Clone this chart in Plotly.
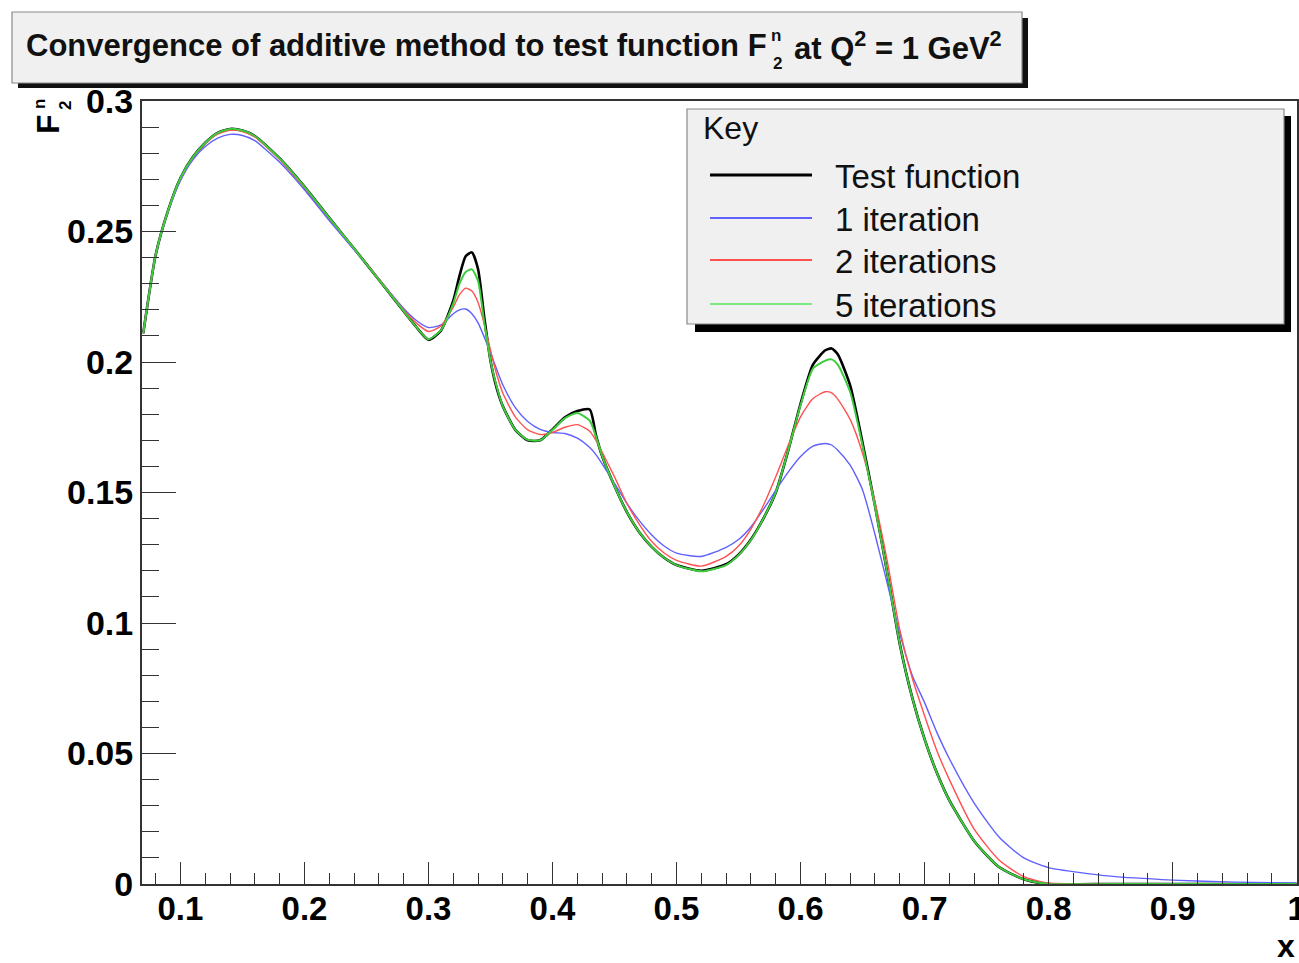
import plotly.graph_objects as go

# ---------------- data ----------------
x_vals = [0.07, 0.08, 0.09, 0.10, 0.11, 0.12, 0.13, 0.14, 0.15, 0.16,
          0.18, 0.20, 0.22, 0.24, 0.26, 0.28,
          0.29, 0.30, 0.31, 0.32,
          0.325, 0.33, 0.335, 0.34, 0.345, 0.35, 0.355, 0.36,
          0.37, 0.38, 0.39, 0.40, 0.41, 0.42, 0.43,
          0.435, 0.44, 0.45, 0.46, 0.47, 0.48, 0.49, 0.50,
          0.52, 0.54, 0.55, 0.56, 0.57, 0.58, 0.59, 0.60, 0.61, 0.62,
          0.625, 0.63, 0.64, 0.65, 0.66, 0.67, 0.68, 0.69, 0.70, 0.71, 0.72,
          0.74, 0.76, 0.78, 0.80, 0.85, 0.90, 0.95, 1.00]

test_function = [0.211, 0.241, 0.258, 0.2705, 0.2785, 0.2840, 0.2878, 0.2893, 0.2887, 0.2866,
                 0.2780, 0.2672, 0.2552, 0.2435, 0.2315, 0.2195,
                 0.2135, 0.2085, 0.2120, 0.2235,
                 0.2330, 0.2405, 0.2420, 0.2355, 0.2170, 0.2005, 0.1900, 0.1830,
                 0.1740, 0.1700, 0.1700, 0.1742, 0.1788, 0.1812, 0.1818,
                 0.1720, 0.1640, 0.1525, 0.1425, 0.1348, 0.1292, 0.1250, 0.1222,
                 0.1200, 0.1225, 0.1262, 0.1320, 0.1400, 0.1500, 0.1660, 0.1840, 0.1990, 0.2045,
                 0.2052, 0.2030, 0.1910, 0.1690, 0.1450, 0.1190, 0.0920, 0.0715, 0.0555, 0.0425, 0.0320,
                 0.0165, 0.0065, 0.0018, 0.0, 0.0, 0.0, 0.0, 0.0]

iter_1 = [0.211, 0.241, 0.2575, 0.2695, 0.2775, 0.2826, 0.2858, 0.2872, 0.2868, 0.2848,
          0.2765, 0.2660, 0.2542, 0.2430, 0.2318, 0.2205,
          0.2160, 0.2132, 0.2142, 0.2185,
          0.2200, 0.2203, 0.2185, 0.2150, 0.2095, 0.2035, 0.1972, 0.1912,
          0.1825, 0.1772, 0.1742, 0.1730, 0.1726, 0.1708, 0.1672,
          0.1645, 0.1610, 0.1535, 0.1458, 0.1392, 0.1337, 0.1295, 0.1268,
          0.1255, 0.1290, 0.1320, 0.1368, 0.1435, 0.1508, 0.1578, 0.1638, 0.1678, 0.1688,
          0.1682, 0.1662, 0.1605, 0.1510, 0.1340, 0.1150, 0.0960, 0.0800, 0.0695, 0.0580, 0.0480,
          0.0310, 0.0180, 0.0100, 0.0063, 0.0030, 0.0015, 0.0007, 0.0004]

iter_2 = [0.211, 0.241, 0.258, 0.2703, 0.2783, 0.2837, 0.2873, 0.2888, 0.2883, 0.2862,
          0.2776, 0.2668, 0.2550, 0.2435, 0.2318, 0.2200,
          0.2150, 0.2117, 0.2138, 0.2210,
          0.2258, 0.2283, 0.2272, 0.2228, 0.2145, 0.2045, 0.1952, 0.1880,
          0.1790, 0.1740, 0.1722, 0.1730, 0.1750, 0.1760, 0.1735,
          0.1700, 0.1655, 0.1560, 0.1458, 0.1378, 0.1312, 0.1268, 0.1240,
          0.1218, 0.1255, 0.1295, 0.1360, 0.1450, 0.1560, 0.1680, 0.1790, 0.1860, 0.1886,
          0.1882, 0.1858, 0.1780, 0.1650, 0.1465, 0.1235, 0.0975, 0.0790, 0.0645, 0.0510, 0.0400,
          0.0210, 0.0092, 0.0028, 0.0004, 0.0, 0.0, 0.0, 0.0]

iter_5 = [0.211, 0.241, 0.258, 0.2705, 0.2785, 0.2840, 0.2878, 0.2893, 0.2887, 0.2866,
          0.2780, 0.2672, 0.2552, 0.2435, 0.2315, 0.2195,
          0.2135, 0.2087, 0.2122, 0.2225,
          0.2300, 0.2345, 0.2355, 0.2310, 0.2150, 0.2005, 0.1905, 0.1830,
          0.1740, 0.1702, 0.1700, 0.1740, 0.1785, 0.1805, 0.1775,
          0.1715, 0.1640, 0.1525, 0.1425, 0.1348, 0.1292, 0.1250, 0.1222,
          0.1198, 0.1222, 0.1260, 0.1318, 0.1400, 0.1500, 0.1660, 0.1835, 0.1975, 0.2005,
          0.2010, 0.1990, 0.1885, 0.1680, 0.1445, 0.1190, 0.0920, 0.0715, 0.0555, 0.0425, 0.0320,
          0.0165, 0.0065, 0.0018, 0.0, 0.0, 0.0, 0.0, 0.0]

series_names = ["Test function", "1 iteration", "2 iterations", "5 iterations"]

x_tick_vals = [0.1, 0.2, 0.3, 0.4, 0.5, 0.6, 0.7, 0.8, 0.9, 1.0]
x_tick_text = ["0.1", "0.2", "0.3", "0.4", "0.5", "0.6", "0.7", "0.8", "0.9", "1"]
y_tick_vals = [0, 0.05, 0.1, 0.15, 0.2, 0.25, 0.3]
y_tick_text = ["0", "0.05", "0.1", "0.15", "0.2", "0.25", "0.3"]

# ---------------- layout geometry ----------------
W, H = 1299, 963
ML, MR, MT, MB = 142, 2, 101, 79
PW, PH = W - ML - MR, H - MT - MB


def px(xp):
    return (xp - ML) / PW


def py(yp):
    return (H - MB - yp) / PH


colors = ["#000000", "#6060ff", "#ff5050", "#3ccc3c"]
widths = [2.6, 1.4, 1.4, 2.0]
series = [test_function, iter_1, iter_2, iter_5]

fig = go.Figure()
for name, ys, c, w in zip(series_names, series, colors, widths):
    fig.add_trace(go.Scatter(x=x_vals, y=ys, mode="lines", name=name,
                             line=dict(color=c, width=w, shape="spline", smoothing=0.6),
                             showlegend=False, cliponaxis=False))

FONT = "Liberation Sans, Arial, Helvetica, sans-serif"
axcol = "#333333"

fig.update_xaxes(range=[0.069, 1.0003], showgrid=False, zeroline=False,
                 showline=True, linecolor=axcol, linewidth=2, mirror=True,
                 ticks="inside", ticklen=22, tickwidth=1.3, tickcolor=axcol,
                 tickmode="array", tickvals=x_tick_vals, ticktext=x_tick_text,
                 tickfont=dict(family=FONT, size=33, color="black", weight="bold"),
                 ticklabelstandoff=-6, ticklabeloverflow="allow", automargin=False,
                 minor=dict(ticks="inside", ticklen=11, tickwidth=1.1, tickcolor=axcol,
                            dtick=0.02, tick0=0, showgrid=False))
fig.update_yaxes(range=[0, 0.3], showgrid=False, zeroline=False,
                 showline=True, linecolor=axcol, linewidth=2, mirror=True,
                 ticks="inside", ticklen=34, tickwidth=1.3, tickcolor=axcol,
                 tickmode="array", tickvals=y_tick_vals, ticktext=y_tick_text,
                 tickfont=dict(family=FONT, size=34, color="black", weight="bold"),
                 ticklabeloverflow="allow", automargin=False,
                 minor=dict(ticks="inside", ticklen=17, tickwidth=1.1, tickcolor=axcol,
                            dtick=0.01, tick0=0, showgrid=False))

shapes = []
annotations = []

# title box with shadow
shapes.append(dict(type="rect", xref="paper", yref="paper", layer="above",
                   x0=px(18), x1=px(1028), y0=py(88), y1=py(18),
                   fillcolor="#111111", line=dict(width=0)))
shapes.append(dict(type="rect", xref="paper", yref="paper", layer="above",
                   x0=px(12), x1=px(1022), y0=py(83), y1=py(12),
                   fillcolor="#f0f0f0", line=dict(color="#8a8a8a", width=1.2)))

tfont = dict(family=FONT, size=31, color="#111111", weight="bold")
annotations.append(dict(xref="paper", yref="paper", x=px(769), y=py(46),
                        xanchor="right", yanchor="middle", showarrow=False,
                        text="Convergence of additive method to test function F", font=tfont))
annotations.append(dict(xref="paper", yref="paper", x=px(776), y=py(36),
                        xanchor="center", yanchor="middle", showarrow=False,
                        text="n", font=dict(family=FONT, size=17, color="#111111", weight="bold")))
annotations.append(dict(xref="paper", yref="paper", x=px(777), y=py(64),
                        xanchor="center", yanchor="middle", showarrow=False,
                        text="2", font=dict(family=FONT, size=17, color="#111111", weight="bold")))
annotations.append(dict(xref="paper", yref="paper", x=px(792), y=py(46),
                        xanchor="left", yanchor="middle", showarrow=False,
                        text="at Q<sup>2</sup> = 1 GeV<sup>2</sup>", font=tfont))

# legend box with shadow
shapes.append(dict(type="rect", xref="paper", yref="paper", layer="above",
                   x0=px(695), x1=px(1291), y0=py(332), y1=py(116),
                   fillcolor="#000000", line=dict(width=0)))
shapes.append(dict(type="rect", xref="paper", yref="paper", layer="above",
                   x0=px(687), x1=px(1284), y0=py(324), y1=py(109),
                   fillcolor="#f0f0f0", line=dict(color="#8a8a8a", width=1.2)))

lfont = dict(family=FONT, size=33, color="#111111")
annotations.append(dict(xref="paper", yref="paper", x=px(701), y=py(128),
                        xanchor="left", yanchor="middle", showarrow=False,
                        text="Key", font=dict(family=FONT, size=32, color="#111111")))
row_y = [175, 218, 260, 304]
for name, c, w, ry in zip(series_names, colors, widths, row_y):
    shapes.append(dict(type="line", xref="paper", yref="paper", layer="above",
                       x0=px(710), x1=px(812), y0=py(ry), y1=py(ry),
                       line=dict(color=c if c != "#3ccc3c" else "#7de87d",
                                 width=3 if c == "#000000" else 2)))
    annotations.append(dict(xref="paper", yref="paper", x=px(833), y=py(ry + 1),
                            xanchor="left", yanchor="middle", showarrow=False,
                            text=name, font=lfont))

# axis titles
annotations.append(dict(xref="paper", yref="paper", x=px(1286), y=py(946),
                        xanchor="center", yanchor="middle", showarrow=False,
                        text="x", font=dict(family=FONT, size=32, color="black", weight="bold")))
annotations.append(dict(xref="paper", yref="paper", x=px(48), y=py(124),
                        xanchor="center", yanchor="middle", showarrow=False, textangle=-90,
                        text="F", font=dict(family=FONT, size=32, color="black", weight="bold")))
annotations.append(dict(xref="paper", yref="paper", x=px(39), y=py(104),
                        xanchor="center", yanchor="middle", showarrow=False, textangle=-90,
                        text="n", font=dict(family=FONT, size=17, color="black", weight="bold")))
annotations.append(dict(xref="paper", yref="paper", x=px(65), y=py(106),
                        xanchor="center", yanchor="middle", showarrow=False, textangle=-90,
                        text="2", font=dict(family=FONT, size=17, color="black", weight="bold")))

fig.update_layout(width=W, height=H, margin=dict(l=ML, r=MR, t=MT, b=MB, autoexpand=False),
                  paper_bgcolor="white", plot_bgcolor="white",
                  shapes=shapes, annotations=annotations, showlegend=False)

fig.write_html("out.html")
